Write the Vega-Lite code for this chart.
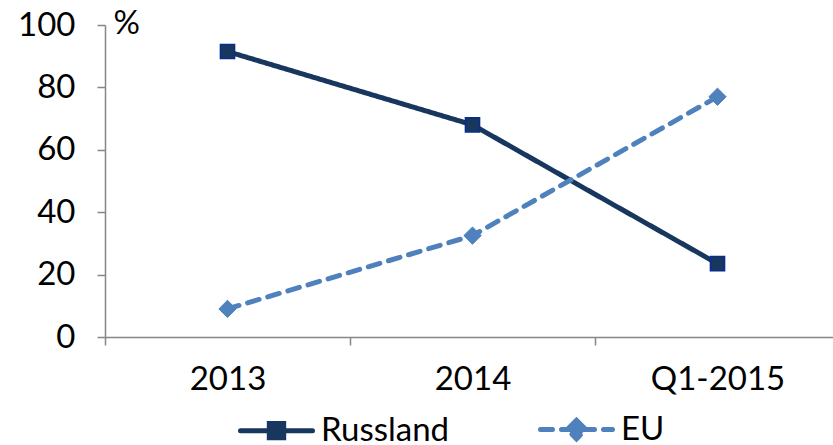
{
  "$schema": "https://vega.github.io/schema/vega-lite/v6.json",
  "width": 735,
  "height": 312,
  "autosize": {"type": "none"},
  "padding": {"left": 105, "top": 25, "right": 0, "bottom": 108},
  "background": "white",
  "config": {
    "view": {"stroke": null},
    "font": "Lato",
    "axis": {
      "labelFont": "Lato",
      "labelFontSize": 33,
      "labelColor": "#000000",
      "domainColor": "#868686",
      "tickColor": "#868686",
      "domainWidth": 1.5,
      "tickWidth": 1.5,
      "grid": false
    }
  },
  "data": {
    "values": [
      {"period": "2013", "series": "Russland", "value": 91.5},
      {"period": "2014", "series": "Russland", "value": 68},
      {"period": "Q1-2015", "series": "Russland", "value": 23.5},
      {"period": "2013", "series": "EU", "value": 9},
      {"period": "2014", "series": "EU", "value": 32.5},
      {"period": "Q1-2015", "series": "EU", "value": 77}
    ]
  },
  "encoding": {
    "x": {
      "field": "period",
      "type": "ordinal",
      "sort": ["2013", "2014", "Q1-2015"],
      "scale": {"type": "band", "paddingInner": 0, "paddingOuter": 0},
      "axis": {"title": null, "labelAngle": 0, "tickBand": "extent", "tickSize": 8, "labelPadding": 18}
    },
    "y": {
      "field": "value",
      "type": "quantitative",
      "scale": {"domain": [0, 100], "nice": false},
      "axis": {
        "values": [0, 20, 40, 60, 80, 100],
        "tickSize": 8,
        "labelPadding": 22,
        "title": "%",
        "titleAngle": 0,
        "titleFont": "Lato",
        "titleFontSize": 33,
        "titleFontWeight": "normal",
        "titleColor": "#000000",
        "titleAlign": "left",
        "titleBaseline": "alphabetic",
        "titleX": 8,
        "titleY": 8
      }
    }
  },
  "layer": [
    {
      "mark": {"type": "line", "strokeWidth": 5, "strokeCap": "round"},
      "encoding": {
        "color": {
          "field": "series",
          "type": "nominal",
          "scale": {"domain": ["Russland", "EU"], "range": ["#17375E", "#4F81BD"]},
          "legend": {
            "title": null,
            "orient": "none",
            "direction": "horizontal",
            "legendX": 133,
            "legendY": 366,
            "padding": 0,
            "symbolSize": 5184,
            "symbolStrokeWidth": 5,
            "labelFont": "Lato",
            "labelFontSize": 33,
            "labelColor": "#000000",
            "labelOffset": 6,
            "columnPadding": 80,
            "encode": {
              "symbols": {
                "update": {
                  "shape": {"signal": "datum.value === 'EU' ? 'M-1,0H1M0,-0.26L0.26,0L0,0.26L-0.26,0Z' : 'M-1,0H1M-0.2,-0.2H0.2V0.2H-0.2Z'"},
                  "size": {"value": 5184},
                  "strokeWidth": {"value": 5},
                  "fill": {"signal": "datum.value === 'EU' ? '#4F81BD' : '#17375E'"},
                  "stroke": {"signal": "datum.value === 'EU' ? '#4F81BD' : '#17375E'"},
                  "strokeDash": {"signal": "datum.value === 'EU' ? [12, 8] : [1, 0]"},
                  "strokeCap": {"value": "round"},
                  "opacity": {"value": 1},
                  "fillOpacity": {"value": 1},
                  "strokeOpacity": {"value": 1}
                }
              }
            }
          }
        },
        "strokeDash": {
          "field": "series",
          "type": "nominal",
          "scale": {"domain": ["Russland", "EU"], "range": [[1, 0], [12, 9]]},
          "legend": null
        }
      }
    },
    {
      "transform": [{"filter": "datum.series === 'Russland'"}],
      "mark": {"type": "point", "shape": "square", "size": 200, "filled": true, "opacity": 1, "fill": "#17375E", "stroke": "#0A2C8C", "strokeWidth": 1.5}
    },
    {
      "transform": [{"filter": "datum.series === 'EU'"}],
      "mark": {"type": "point", "shape": "diamond", "size": 300, "filled": true, "opacity": 1, "fill": "#4F81BD", "stroke": "#4F81BD", "strokeWidth": 1}
    }
  ]
}
